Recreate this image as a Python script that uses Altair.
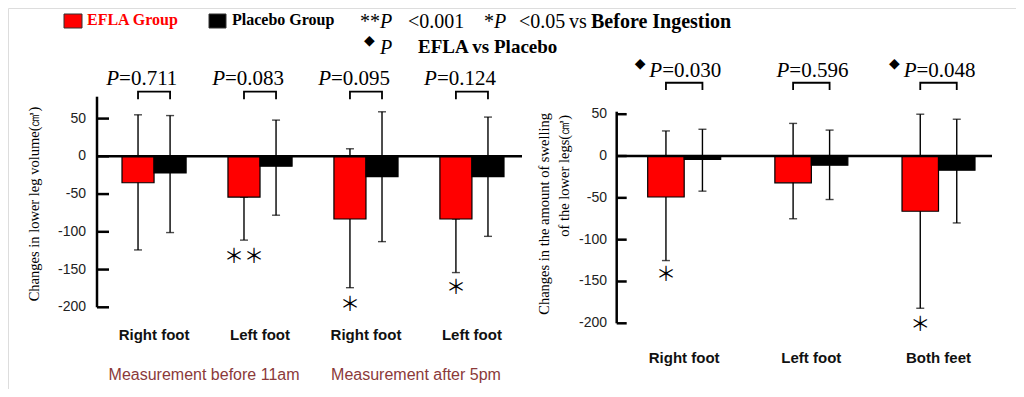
import altair as alt
import pandas as pd

# ---------------- data ----------------
GROUPS = ["EFLA", "Placebo"]
COLORS = ["#ff0000", "#000000"]

# left panel: changes in lower leg volume
left_keys = ["R_am", "L_am", "R_pm", "L_pm"]
left_labels = ["Right foot", "Left foot", "Right foot", "Left foot"]
left_efla = [-35, -54, -83, -83]
left_efla_hi = [55, -54, 10, -83]
left_efla_lo = [-124, -111, -174, -154]
left_plac = [-22, -13, -27, -27]
left_plac_hi = [54, 48, 59, 52]
left_plac_lo = [-101, -78, -113, -106]
left_p = ["=0.711", "=0.083", "=0.095", "=0.124"]
left_diamond = ["", "", "", ""]
left_sig = [0, 2, 1, 1]          # number of asterisks (vs before ingestion)
left_sig_y = [0, -133, -197, -174]
left_ticks = [50, 0, -50, -100, -150, -200]
left_title = ["Changes in lower leg volume(㎤)"]
session_labels = ["Measurement before 11am", "Measurement after 5pm"]
session_keys = ["R_am", "R_pm"]

# right panel: changes in the amount of swelling
right_keys = ["R", "L", "B"]
right_labels = ["Right foot", "Left foot", "Both feet"]
right_efla = [-49, -32, -66]
right_efla_hi = [30, 39, 50]
right_efla_lo = [-125, -75, -182]
right_plac = [-4, -11, -17]
right_plac_hi = [32, 31, 44]
right_plac_lo = [-42, -52, -80]
right_p = ["=0.030", "=0.596", "=0.048"]
right_diamond = ["◆", "", "◆"]
right_sig = [1, 0, 1]
right_sig_y = [-142, 0, -202]
right_ticks = [50, 0, -50, -100, -150, -200]
right_title = ["Changes in the amount of swelling", "of the lower legs(㎤)"]

legend_labels = ["EFLA Group", "Placebo Group"]

SERIF = "Liberation Serif"
SANS = "Liberation Sans"
CJK = "Noto Sans CJK JP"
STAR = "＊"


def one_row():
    return pd.DataFrame({"d": [0]})


def panel(keys, labels, ev, eh, el, pv, ph, pl, ptxt, dia, sig, sig_y, ticks,
          ymax, x_range, pad_inner, y_range, axis_x, zero_x2, tick_len, lab_x,
          cat_y, p_dx, p_y, br_lo, br_hi, dia_dx, dia_y):
    xs = alt.Scale(domain=keys, range=x_range, paddingInner=pad_inner, paddingOuter=0)
    ys = alt.Scale(domain=[-200, ymax], range=y_range, nice=False, zero=False)
    os_ = alt.Scale(domain=GROUPS, paddingInner=0, paddingOuter=0)
    cs = alt.Scale(domain=GROUPS, range=COLORS)

    rows = []
    for i, k in enumerate(keys):
        rows.append(dict(key=k, group="EFLA", value=ev[i], hi=eh[i], lo=el[i]))
        rows.append(dict(key=k, group="Placebo", value=pv[i], hi=ph[i], lo=pl[i]))
    df = pd.DataFrame(rows)

    X = alt.X("key:N", scale=xs, axis=None)
    XO = alt.XOffset("group:N", scale=os_)

    def Y(f):
        return alt.Y(f, scale=ys, axis=None)

    base = alt.Chart(df)
    err = base.mark_rule(color="black", strokeWidth=1.4).encode(X, XO, y=Y("lo:Q"), y2="hi:Q")
    cap_hi = base.mark_tick(orient="horizontal", size=8, thickness=1.4, color="black").encode(X, XO, y=Y("hi:Q"))
    cap_lo = base.mark_tick(orient="horizontal", size=8, thickness=1.4, color="black").encode(X, XO, y=Y("lo:Q"))
    bars = base.mark_bar(stroke="black", strokeWidth=1.2).encode(
        X, XO, y=Y("value:Q"),
        color=alt.Color("group:N", scale=cs, legend=None))

    zero = alt.Chart(pd.DataFrame({"v": [0]})).mark_rule(color="black", strokeWidth=2.5).encode(
        y=Y("v:Q"), x=alt.value(axis_x), x2=alt.value(zero_x2))
    axis_line = alt.Chart(pd.DataFrame({"lo": [-200], "hi": [ymax]})).mark_rule(
        color="black", strokeWidth=2.5).encode(x=alt.value(axis_x), y=Y("lo:Q"), y2="hi:Q")
    tdf = pd.DataFrame({"t": ticks, "lab": [str(t) for t in ticks]})
    tk = alt.Chart(tdf).mark_rule(color="black", strokeWidth=2.5).encode(
        y=Y("t:Q"), x=alt.value(axis_x), x2=alt.value(axis_x + tick_len))
    tl = alt.Chart(tdf).mark_text(align="right", baseline="middle", font=SANS, fontSize=14,
                                  color="#222").encode(y=Y("t:Q"), x=alt.value(lab_x), text="lab:N")

    br_rows = []
    for k in keys:
        br_rows += [dict(key=k, group="EFLA", y=br_lo, o=0),
                    dict(key=k, group="EFLA", y=br_hi, o=1),
                    dict(key=k, group="Placebo", y=br_hi, o=2),
                    dict(key=k, group="Placebo", y=br_lo, o=3)]
    br = alt.Chart(pd.DataFrame(br_rows)).mark_line(color="black", strokeWidth=1.8).encode(
        X, XO, y=Y("y:Q"), order="o:Q", detail="key:N")

    pdf = pd.DataFrame({"key": keys, "p": ptxt, "y": [p_y] * len(keys), "dia": dia,
                        "dy": [dia_y] * len(keys)})
    p_it = alt.Chart(pdf).mark_text(text="P", font=SERIF, fontStyle="italic", fontSize=21,
                                    align="right", baseline="alphabetic", dx=p_dx).encode(x=X, y=Y("y:Q"))
    p_val = alt.Chart(pdf).mark_text(font=SERIF, fontSize=21, align="left", baseline="alphabetic",
                                     dx=p_dx).encode(x=X, y=Y("y:Q"), text="p:N")
    p_dia = alt.Chart(pdf).mark_text(font="DejaVu Sans", fontSize=14, align="center",
                                     baseline="middle", dx=dia_dx).encode(x=X, y=Y("dy:Q"), text="dia:N")

    sdf = pd.DataFrame({"key": keys, "group": ["EFLA"] * len(keys), "n": sig, "y": sig_y})
    star_layers = []
    for cond, dx in [("datum.n == 1", 0), ("datum.n == 2", -10), ("datum.n == 2", 10)]:
        star_layers.append(
            alt.Chart(sdf).transform_filter(cond).mark_text(
                text=STAR, font=CJK, fontSize=20, baseline="middle", align="center", dx=dx
            ).encode(X, XO, y=Y("y:Q")))

    cdf = pd.DataFrame({"key": keys, "lab": labels})
    cats = alt.Chart(cdf).mark_text(font=SANS, fontWeight="bold", fontSize=15, baseline="middle",
                                    color="#111").encode(x=X, y=alt.value(cat_y), text="lab:N")

    return alt.layer(err, cap_hi, cap_lo, bars, zero, axis_line, tk, tl, br,
                     p_it, p_val, p_dia, *star_layers, cats), X


left, XL = panel(left_keys, left_labels, left_efla, left_efla_hi, left_efla_lo,
                 left_plac, left_plac_hi, left_plac_lo, left_p, left_diamond, left_sig, left_sig_y,
                 left_ticks, 79, [114, 496], 0.395, [299.3, 88.7], 89, 514, 12, 78,
                 327, -35, 94.4, 75.5, 85.6, -44, 110)
right, XR = panel(right_keys, right_labels, right_efla, right_efla_hi, right_efla_lo,
                  right_plac, right_plac_hi, right_plac_lo, right_p, right_diamond, right_sig,
                  right_sig_y, right_ticks, 53, [639.7, 967], 0.426, [315.3, 103.7], 608.7, 984,
                  10, 599, 350, -22, 94.8, 78.9, 87.6, -44, 110)

# session labels under the left panel
sess = alt.Chart(pd.DataFrame({"key": session_keys, "lab": session_labels})).mark_text(
    font=SANS, fontSize=16, baseline="middle", color="#8b3a3a", dx=50).encode(
    x=alt.X("key:N", scale=alt.Scale(domain=left_keys, range=[114, 496], paddingInner=0.395,
                                     paddingOuter=0), axis=None),
    y=alt.value(367), text="lab:N")
left = alt.layer(left, sess)


def txt(s, x, y, **kw):
    style = dict(align="left", baseline="middle", font=SERIF, fontSize=20, color="black")
    style.update(kw)
    return alt.Chart(one_row()).mark_text(**style).encode(
        x=alt.value(x), y=alt.value(y), text=alt.value(s))


def box(x, x2, y, y2, fill):
    return alt.Chart(one_row()).mark_rect(fill=fill, stroke="#333", strokeWidth=1).encode(
        x=alt.value(x), x2=alt.value(x2), y=alt.value(y), y2=alt.value(y2))


header = [
    box(56, 74, 6, 20, COLORS[0]),
    txt(legend_labels[0], 79, 12, fontWeight="bold", fontSize=16, color=COLORS[0]),
    box(201, 218, 6, 20, COLORS[1]),
    txt(legend_labels[1], 224, 12, fontWeight="bold", fontSize=16),
    txt("**", 352, 14, fontSize=20),
    txt("P", 372, 14, fontStyle="italic"),
    txt("<0.001", 400, 14),
    txt("*", 476, 14, fontSize=20),
    txt("P", 486, 14, fontStyle="italic"),
    txt("<0.05", 511, 14),
    txt("vs", 561, 14),
    txt("Before Ingestion", 583, 14, fontWeight="bold", fontSize=20),
    txt("◆", 356, 33, font="DejaVu Sans", fontSize=14),
    txt("P", 372, 40, fontStyle="italic"),
    txt("EFLA vs Placebo", 410, 39, fontWeight="bold", fontSize=19),
    txt(left_title[0], 27, 196, angle=270, align="center", fontSize=14.5),
    txt(right_title[0], 537, 105, angle=270, align="right", fontSize=14.5),
    txt(right_title[1], 557, 107, angle=270, align="right", fontSize=14.5),
]

chart = alt.layer(*header, left, right).resolve_scale(
    x="independent", y="independent", xOffset="independent"
).properties(
    width=1008, height=381, padding=0,
    autosize=alt.AutoSizeParams(type="none"),
).configure_view(stroke=None).configure(background="white")

chart.save("out.html", embed_options={"renderer": "svg", "actions": False})
